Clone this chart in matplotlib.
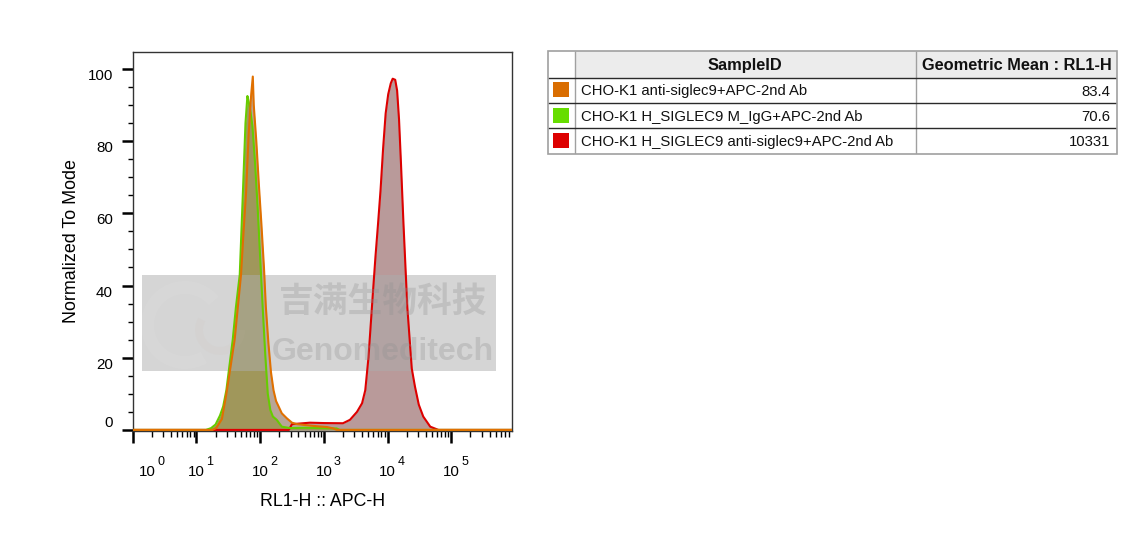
import numpy as np
import matplotlib
matplotlib.use("Agg")
import matplotlib.pyplot as plt
from matplotlib.patches import Rectangle, Wedge
from matplotlib.ticker import FixedLocator, LogLocator, NullFormatter, MultipleLocator
import matplotlib.transforms as mtransforms

plt.rcParams['font.family'] = ['Liberation Sans', 'DejaVu Sans']

# histogram traces: log10(RL1-H) positions and "Normalized To Mode" heights
orange_lx = [0, 1.25, 1.31, 1.40, 1.47, 1.54, 1.60, 1.65, 1.70, 1.74, 1.78, 1.82, 1.86, 1.885,
             1.90, 1.94, 1.98, 2.02, 2.06, 2.09, 2.13, 2.17, 2.21, 2.25, 2.29, 2.34, 2.42, 2.50,
             2.58, 2.73, 2.90, 3.05, 3.15, 3.20, 5.945]
orange_y = [0, 0, 0.5, 3, 10, 18, 25, 34, 43, 55, 66, 82, 93, 97.9,
            90, 80, 68, 57, 45, 34, 24, 16, 11, 8, 6.5, 4.6, 3.2, 2.0,
            1.6, 1.3, 1.0, 0.8, 0.4, 0, 0]

green_lx = [0, 1.15, 1.23, 1.30, 1.37, 1.42, 1.47, 1.52, 1.57, 1.62, 1.68, 1.73, 1.77, 1.80,
            1.82, 1.85, 1.88, 1.92, 1.96, 2.00, 2.04, 2.08, 2.12, 2.16, 2.20, 2.26, 2.34, 2.47,
            2.70, 3.00, 3.20, 3.25, 5.945]
green_y = [0, 0, 0.5, 1.5, 4, 6.5, 11, 18, 25, 34, 43, 66, 85, 92.5,
           91, 88, 84, 74, 62, 48, 34, 21, 10, 5.5, 3.7, 2.8, 0.9, 0.5,
           0.6, 0.5, 0.4, 0, 0]

red_lx = [0, 2.45, 2.50, 2.78, 3.00, 3.30, 3.41, 3.52, 3.60, 3.65, 3.70, 3.73, 3.77, 3.81,
          3.85, 3.89, 3.93, 3.97, 4.01, 4.05, 4.08, 4.12, 4.15, 4.18, 4.21, 4.25, 4.31, 4.38,
          4.43, 4.49, 4.56, 4.67, 4.77, 4.80, 5.945]
red_y = [0, 0, 1.6, 2.0, 1.9, 1.85, 2.8, 5, 7.4, 11, 20, 27.7, 38, 48,
         57, 66.5, 78, 87.7, 93, 96, 97.3, 97, 94, 86, 74, 57, 34, 17,
         12, 7, 3.7, 0.9, 0.2, 0, 0]

sample_ids = ['CHO-K1 anti-siglec9+APC-2nd Ab',
              'CHO-K1 H_SIGLEC9 M_IgG+APC-2nd Ab',
              'CHO-K1 H_SIGLEC9 anti-siglec9+APC-2nd Ab']
geo_means = ['83.4', '70.6', '10331']
swatch_colors = ['#d96d00', '#66dd00', '#dd0000']
headers = ['SampleID', 'Geometric Mean : RL1-H']

y_ticks = [0, 20, 40, 60, 80, 100]
x_exponents = [0, 1, 2, 3, 4, 5]

W, H = 1147, 537
fig = plt.figure(figsize=(W / 100, H / 100), dpi=100)

# ---- histogram axes
ax = fig.add_axes([132.7 / W, 1 - 431 / H, 378.8 / W, 379 / H])
ax.set_xscale('log')
ax.set_xlim(1, 10 ** 5.945)
ax.set_ylim(-0.3, 104.7)

ox = 10 ** np.array(orange_lx)
gx = 10 ** np.array(green_lx)
rx = 10 ** np.array(red_lx)

ax.fill_between(rx, red_y, color='#b99a9a', lw=0, zorder=1)
ax.fill_between(ox, orange_y, color='#b8a597', lw=0, zorder=1.1)
ax.fill_between(gx, green_y, color='#a0975b', lw=0, zorder=1.2)

# watermark (pixel coordinates, y measured from the bottom)
ax.add_patch(Rectangle((142.3, H - 370.7), 353.4, 95.7, transform=None, color='#adadad',
                       alpha=0.5, lw=0, zorder=2))
wm = fig.dpi_scale_trans
ax.add_patch(Wedge((1.85, (H - 325) / 100), 0.44, 40, 300, width=0.13, transform=wm,
                   color='white', alpha=0.06, lw=0, zorder=2.1))
ax.add_patch(Wedge((2.2, (H - 330) / 100), 0.25, 150, 360, width=0.08, transform=wm,
                   color='#c9b8a8', alpha=0.08, lw=0, zorder=2.1))
fig.text(383.3 / W, 1 - 301.7 / H, '吉满生物科技', fontsize=25, fontweight='bold',
         family=['Noto Sans CJK SC', 'DejaVu Sans'], color='#909090', alpha=0.3,
         ha='center', va='center', zorder=2.5)
fig.text(383.3 / W, 1 - 360 / H, 'Genomeditech', fontsize=23, fontweight='bold',
         color='#909090', alpha=0.3, ha='center', va='baseline', zorder=2.5)

ax.plot(rx, red_y, color='#dd0000', lw=1.5, zorder=3)
ax.plot(gx, green_y, color='#66cc00', lw=1.5, zorder=3.1)
ax.plot(ox, orange_y, color='#e07000', lw=1.5, zorder=3.2)

for s in ax.spines.values():
    s.set_color('#333333')
    s.set_linewidth(1.0)

ax.yaxis.set_major_locator(FixedLocator(y_ticks))
ax.yaxis.set_minor_locator(MultipleLocator(5))
ax.tick_params(axis='y', which='major', length=7.7, width=1.8, labelsize=10.9, pad=6.5, color='black')
ax.tick_params(axis='y', which='minor', length=3.6, width=1.0, color='black')
for lab, v in zip(ax.set_yticklabels([str(t) for t in y_ticks]), y_ticks):
    lab.set_va('bottom' if v == 0 else 'top')

ax.xaxis.set_major_locator(FixedLocator([10.0 ** e for e in x_exponents]))
ax.xaxis.set_minor_locator(LogLocator(base=10, subs=np.arange(2, 10), numticks=20))
ax.xaxis.set_major_formatter(NullFormatter())
ax.xaxis.set_minor_formatter(NullFormatter())
ax.tick_params(axis='x', which='major', length=8.3, width=1.8, color='black')
ax.tick_params(axis='x', which='minor', length=4.0, width=1.0, color='black')

xt = ax.get_xaxis_transform()
for e in x_exponents:
    shift = 15 if e == 0 else 0
    base_tr = mtransforms.offset_copy(xt, fig=fig, x=shift, units='dots')
    ax.text(10.0 ** e, -0.118, '10', transform=base_tr, fontsize=10.8,
            ha='center', va='baseline')
    sup_tr = mtransforms.offset_copy(xt, fig=fig, x=shift + 10.0, units='dots')
    ax.text(10.0 ** e, -0.0897, str(e), transform=sup_tr, fontsize=9,
            ha='left', va='baseline')

ax.set_xlabel('RL1-H :: APC-H', fontsize=12.8)
ax.xaxis.set_label_coords(0.5, -0.187)
ax.xaxis.label.set_va('center')
ax.set_ylabel('Normalized To Mode', fontsize=12.9)
ax.yaxis.set_label_coords(-0.161, 0.5)
ax.yaxis.label.set_va('center')

# ---- statistics table (drawn in pixel units of its own axes)
tw, th = 569.0, 102.7
tax = fig.add_axes([548.3 / W, 1 - 153.7 / H, tw / W, th / H])
tax.set_xlim(0, tw)
tax.set_ylim(th, 0)
tax.axis('off')
col_edges = [0, 26.7, 367.4, tw]
row_edges = [0, 26.7, 52.3, 77.3, th]

tax.add_patch(Rectangle((col_edges[1], 0), tw - col_edges[1], row_edges[1],
                        facecolor='#ececec', edgecolor='none', zorder=1))
for y in row_edges[1:-1]:
    tax.plot([0, tw], [y, y], color='#2a2a2a', lw=1.0, zorder=3, solid_capstyle='butt')
for x in col_edges[1:-1]:
    tax.plot([x, x], [0, th], color='#a0a0a0', lw=1.0, zorder=2, solid_capstyle='butt')
tax.add_patch(Rectangle((0, 0), tw, th, facecolor='none', edgecolor='#a0a0a0', lw=1.2,
                        zorder=4, clip_on=False))

tax.text((col_edges[1] + col_edges[2]) / 2, row_edges[1] / 2 + 1, headers[0],
         fontsize=11.8, fontweight='bold', ha='center', va='center', color='#111111')
tax.text((col_edges[2] + col_edges[3]) / 2, row_edges[1] / 2 + 1, headers[1],
         fontsize=11.8, fontweight='bold', ha='center', va='center', color='#111111')
for i, (sid, gm, col) in enumerate(zip(sample_ids, geo_means, swatch_colors)):
    top, bot = row_edges[i + 1], row_edges[i + 2]
    mid = (top + bot) / 2 + 1
    tax.add_patch(Rectangle((4.4, top + 4.3), 16.6, 15.3, facecolor=col,
                            edgecolor='none', zorder=5))
    tax.text(col_edges[1] + 5.7, mid, sid, fontsize=10.7, ha='left', va='center',
             color='#111111')
    tax.text(tw - 6.6, mid, gm, fontsize=10.7, ha='right', va='center', color='#111111')

fig.savefig('out.png', dpi=100)
